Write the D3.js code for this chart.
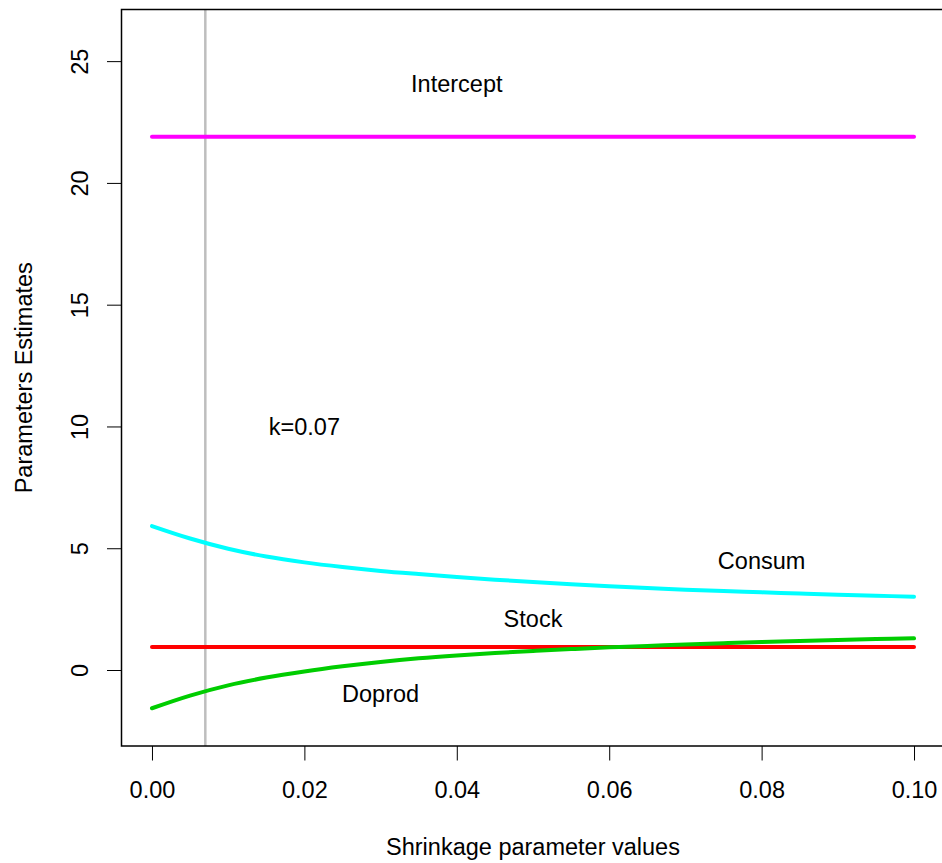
<!DOCTYPE html>
<html>
<head>
<meta charset="utf-8">
<script src="https://cdn.jsdelivr.net/npm/d3@7"></script>
<style>
  html, body { margin: 0; padding: 0; background: #ffffff; }
  svg { display: block; font-family: "Liberation Sans", Arial, Helvetica, sans-serif; }
</style>
</head>
<body>
<svg id="chart" width="942" height="863"></svg>
<script>
// valores de k (parametro de contraccion)
const kValues = [0, 0.005, 0.01, 0.015, 0.02, 0.025, 0.03, 0.035, 0.04, 0.045, 0.05,
  0.055, 0.06, 0.065, 0.07, 0.075, 0.08, 0.085, 0.09, 0.095, 0.1];

// estimaciones
const intercept = [21.9, 21.9, 21.9, 21.9, 21.9, 21.9, 21.9, 21.9, 21.9, 21.9, 21.9,
  21.9, 21.9, 21.9, 21.9, 21.9, 21.9, 21.9, 21.9, 21.9, 21.9];
const consum = [5.91, 5.40, 4.98, 4.66, 4.42, 4.23, 4.07, 3.94, 3.82, 3.71, 3.61,
  3.52, 3.44, 3.37, 3.30, 3.24, 3.19, 3.14, 3.09, 3.05, 3.01];
const stock = [0.95, 0.95, 0.95, 0.95, 0.95, 0.95, 0.95, 0.95, 0.95, 0.95, 0.95,
  0.95, 0.95, 0.95, 0.95, 0.95, 0.95, 0.95, 0.95, 0.95, 0.95];
const doprod = [-1.57, -1.05, -0.63, -0.31, -0.06, 0.15, 0.33, 0.48, 0.60, 0.70, 0.78,
  0.86, 0.93, 0.99, 1.05, 1.10, 1.15, 1.19, 1.23, 1.27, 1.30];

const xTicks = [0, 0.02, 0.04, 0.06, 0.08, 0.1];
const yTicks = [0, 5, 10, 15, 20, 25];
const kLine = 0.007;

const series = [
  { name: 'Intercept', values: intercept, color: '#ff00ff', lx: 0.04, ly: 24.1 },
  { name: 'Consum', values: consum, color: '#00ffff', lx: 0.08, ly: 4.5 },
  { name: 'Stock', values: stock, color: '#ff0000', lx: 0.05, ly: 2.1 },
  { name: 'Doprod', values: doprod, color: '#00cd00', lx: 0.03, ly: -0.95 },
];

const svg = d3.select('#chart');
const plotLeft = 121.5, plotRight = 944.5, plotTop = 9.5, plotBottom = 746;
const fs = 23.5;

const x = d3.scaleLinear().domain([-0.004, 0.104]).range([plotLeft, plotRight]);
const y = d3.scaleLinear().domain([-3.12, 27.12]).range([plotBottom, plotTop]);

// linea vertical en k elegido
svg.append('line')
  .attr('x1', x(kLine)).attr('x2', x(kLine))
  .attr('y1', plotTop).attr('y2', plotBottom)
  .attr('stroke', '#bebebe')
  .attr('stroke-width', 2.5);

// trazas de ridge
const line = d3.line()
  .x((d, i) => x(kValues[i]))
  .y(d => y(d))
  .curve(d3.curveCatmullRom);

series.forEach(s => {
  svg.append('path')
    .datum(s.values)
    .attr('d', line)
    .attr('fill', 'none')
    .attr('stroke', s.color)
    .attr('stroke-width', 4)
    .attr('stroke-linecap', 'round');

  svg.append('text')
    .attr('x', x(s.lx))
    .attr('y', y(s.ly))
    .attr('dy', '0.36em')
    .attr('text-anchor', 'middle')
    .attr('font-size', fs)
    .attr('fill', '#000')
    .text(s.name);
});

svg.append('text')
  .attr('x', x(0.02))
  .attr('y', y(10))
  .attr('dy', '0.36em')
  .attr('text-anchor', 'middle')
  .attr('font-size', fs)
  .text('k=0.07');

// ejes
const xAxis = svg.append('g')
  .attr('transform', `translate(0,${plotBottom})`)
  .call(d3.axisBottom(x).tickValues(xTicks).tickFormat(d3.format('.2f'))
    .tickSize(14.5).tickPadding(21));
xAxis.select('.domain').remove();
xAxis.selectAll('text').attr('font-size', fs).attr('font-family', null).attr('fill', '#000');
xAxis.selectAll('line').attr('stroke', '#000');

const yAxis = svg.append('g')
  .attr('transform', `translate(${plotLeft},0)`)
  .call(d3.axisLeft(y).tickValues(yTicks).tickSize(14.5));
yAxis.select('.domain').remove();
yAxis.selectAll('line').attr('stroke', '#000');
yAxis.selectAll('text')
  .attr('x', null).attr('dy', null)
  .attr('font-size', fs).attr('font-family', null).attr('fill', '#000')
  .attr('text-anchor', 'middle')
  .attr('transform', 'translate(-33.5,0) rotate(-90)');

// caja
svg.append('rect')
  .attr('x', plotLeft).attr('y', plotTop)
  .attr('width', plotRight - plotLeft).attr('height', plotBottom - plotTop)
  .attr('fill', 'none')
  .attr('stroke', '#000')
  .attr('stroke-width', 1.5);

// titulos
svg.append('text')
  .attr('x', (plotLeft + plotRight) / 2)
  .attr('y', 855)
  .attr('text-anchor', 'middle')
  .attr('font-size', fs)
  .text('Shrinkage parameter values');

svg.append('text')
  .attr('transform', `translate(31.5,${(plotTop + plotBottom) / 2}) rotate(-90)`)
  .attr('text-anchor', 'middle')
  .attr('font-size', fs)
  .text('Parameters Estimates');
</script>
</body>
</html>
